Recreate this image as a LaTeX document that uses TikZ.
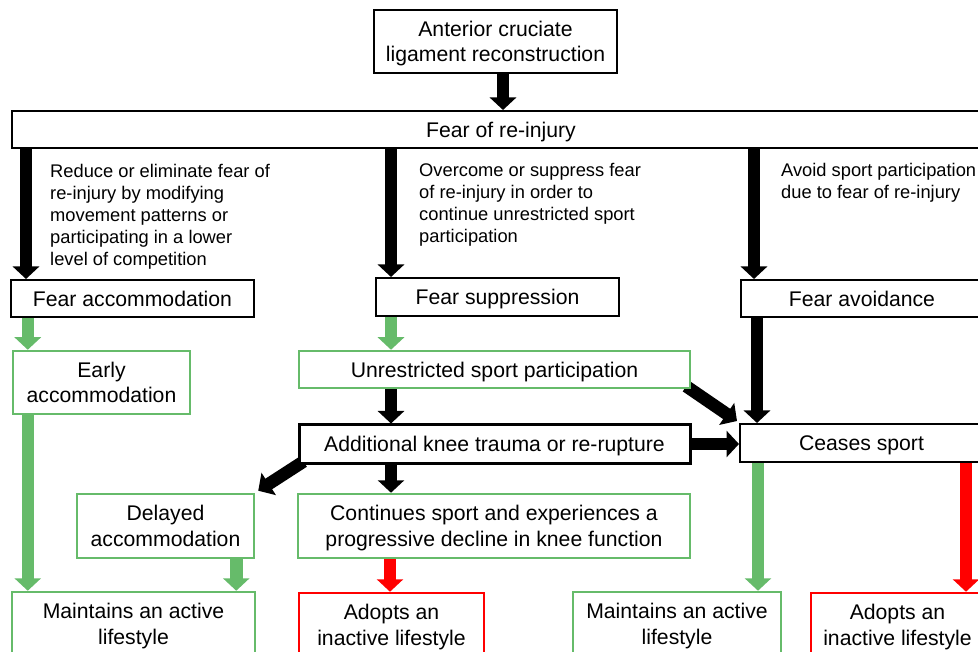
\documentclass[tikz,border=0pt]{standalone}
\usepackage{fontspec}
\setmainfont{Liberation Sans}
\usetikzlibrary{arrows.meta,calc}
\pgfdeclarelayer{background}
\pgfsetlayers{background,main}
\definecolor{fgreen}{RGB}{102,187,106}
\definecolor{fred}{RGB}{255,0,0}
\tikzset{
  box/.style={draw=black, line width=2pt, fill=white, align=center, inner sep=0pt,
    text depth=0pt, font=\fontsize{21.2}{25.4}\selectfont},
  gbox/.style={box, draw=fgreen, line width=2.5pt},
  rbox/.style={box, draw=fred, line width=2.5pt},
  kbox/.style={box, line width=3pt},
  lab/.style={anchor=north west, align=left, inner sep=0pt,
    font=\fontsize{18.3}{22}\selectfont},
  fat/.style={line width=12.5pt, -{Triangle[width=26pt,length=12.5pt]}},
  barrow/.style={fat, draw=black},
  garrow/.style={fat, draw=fgreen},
  rarrow/.style={fat, draw=fred},
}
\begin{document}
\begin{tikzpicture}[x=1pt,y=-1pt]
\useasboundingbox (0,0) rectangle (978,652);
\clip (0,0) rectangle (978,652);
% boxes
\node[box, minimum width=243, minimum height=63] (acl) at (495.5,41.5) {Anterior cruciate\\ligament reconstruction};
\node[box, minimum width=978, minimum height=37] (fear) at (501,129.5) {Fear of re-injury};
\node[box, minimum width=243, minimum height=37] (facc) at (132.5,298.5) {Fear accommodation};
\node[box, minimum width=243, minimum height=38] (fsup) at (497.5,297) {Fear suppression};
\node[box, minimum width=242, minimum height=37] (favo) at (862,298.5) {Fear avoidance};
\node[gbox, minimum width=177, minimum height=63] (early) at (101.5,382.5) {Early\\accommodation};
\node[gbox, minimum width=391, minimum height=37] (uns) at (494.5,369.5) {Unrestricted sport participation};
\node[kbox, minimum width=391, minimum height=38] (add) at (494.5,444) {Additional knee trauma or re-rupture};
\node[box, minimum width=243, minimum height=38] (ceases) at (861.5,443) {Ceases sport};
\node[gbox, minimum width=177, minimum height=64] (del) at (165.5,526) {Delayed\\accommodation};
\node[gbox, minimum width=392, minimum height=64] (cont) at (494,526) {Continues sport and experiences a\\progressive decline in knee function};
\node[gbox, minimum width=243, minimum height=64] (mainL) at (133.5,624) {Maintains an active\\lifestyle};
\node[rbox, minimum width=185, minimum height=64] (adoM) at (391.5,625) {Adopts an\\inactive lifestyle};
\node[gbox, minimum width=208, minimum height=64] (mainR) at (677,624) {Maintains an active\\lifestyle};
\node[rbox, minimum width=173, minimum height=64] (adoR) at (897.5,625) {Adopts an\\inactive lifestyle};
% labels
\node[lab] (l1) at (50,163.6) {Reduce or eliminate fear of\\re-injury by modifying\\movement patterns or\\participating in a lower\\level of competition};
\node[lab] (l2) at (419,163.4) {Overcome or suppress fear\\of re-injury in order to\\continue unrestricted sport\\participation};
\node[lab] (l3) at (781,163.4) {Avoid sport participation\\due to fear of re-injury};
% arrows
\begin{pgfonlayer}{background}
\draw[barrow] ([xshift=7.5pt]acl.south) -- ([xshift=7.5pt]acl.south |- fear.north);
\draw[barrow] ([xshift=16pt]facc.north west |- fear.south) -- ([xshift=16pt]facc.north west);
\draw[barrow] ([xshift=16pt]fsup.north west |- fear.south) -- ([xshift=16pt]fsup.north west);
\draw[barrow] ([xshift=14pt]favo.north west |- fear.south) -- ([xshift=14pt]favo.north west);
\draw[garrow] ([xshift=16pt]early.north west |- facc.south) -- ([xshift=16pt]early.north west);
\draw[garrow] ([xshift=16pt]early.south west) -- ([xshift=16pt]early.south west |- mainL.north);
\draw[garrow] ([xshift=16pt]fsup.south west) -- ([xshift=16pt]fsup.south west |- uns.north);
\draw[barrow] ([xshift=16pt]fsup.south west |- uns.south) -- ([xshift=16pt]fsup.south west |- add.north);
\draw[barrow] ([xshift=16pt]fsup.south west |- add.south) -- ([xshift=16pt]fsup.south west |- cont.north);
\draw[barrow] ([shift={(6,-3)}]add.south west) -- ([shift={(3,-2)}]del.north east);
\draw[garrow] ([xshift=-19pt]del.south east) -- ([xshift=-19pt]del.south east |- mainL.north);
\draw[rarrow] ([xshift=-1.5pt]adoM.north |- cont.south) -- ([xshift=-1.5pt]adoM.north);
\draw[barrow] ([shift={(-5,-3)}]uns.south east) -- ([shift={(-2,-2)}]ceases.north west);
\draw[barrow] (add.east) -- (add.east -| ceases.west);
\draw[barrow] ([xshift=18pt]ceases.north west |- favo.south) -- ([xshift=18pt]ceases.north west);
\draw[garrow] ([xshift=19pt]ceases.south west) -- ([xshift=19pt]ceases.south west |- mainR.north);
\draw[rarrow] ([xshift=227pt]ceases.south west) -- ([xshift=227pt]ceases.south west |- adoR.north);
\end{pgfonlayer}
\end{tikzpicture}
\end{document}
